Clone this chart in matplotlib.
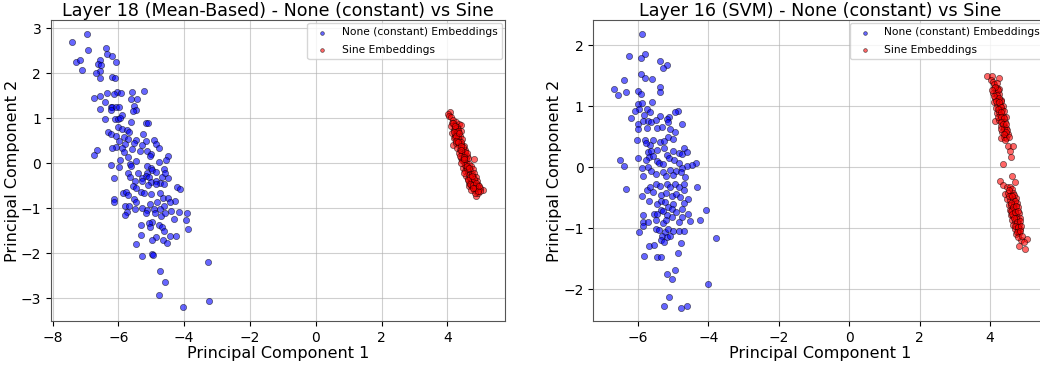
import matplotlib
matplotlib.use("Agg")
import matplotlib.pyplot as plt
import numpy as np

# ---------------- data ----------------
left_title = "Layer 18 (Mean-Based) - None (constant) vs Sine"
right_title = "Layer 16 (SVM) - None (constant) vs Sine"
legend_labels = ["None (constant) Embeddings", "Sine Embeddings"]

left_none = [
    (-6.95, 2.87), (-7.40, 2.69), (-6.93, 2.51), (-6.37, 2.56), (-6.35, 2.42), (-6.18, 2.39),
    (-7.30, 2.24), (-7.18, 2.30), (-6.55, 2.30), (-6.63, 2.21), (-6.52, 2.17), (-6.06, 2.24),
    (-7.11, 2.06), (-6.55, 2.05), (-6.67, 2.01), (-6.55, 1.88), (-6.18, 1.92), (-6.10, 1.88),
    (-5.58, 1.59), (-5.22, 1.61), (-6.04, 1.59), (-5.91, 1.56), (-6.36, 1.55), (-6.13, 1.53),
    (-6.55, 1.48), (-6.73, 1.44), (-5.61, 1.42), (-5.44, 1.42), (-6.40, 1.35), (-5.52, 1.27),
    (-6.23, 1.25), (-6.18, 1.24), (-6.08, 1.24), (-5.97, 1.24), (-6.57, 1.20), (-6.21, 1.18),
    (-5.46, 1.19), (-5.57, 1.15), (-5.90, 1.06), (-6.42, 0.97), (-6.10, 0.97), (-6.01, 0.98),
    (-5.94, 1.01), (-5.62, 0.92), (-5.17, 0.88), (-5.10, 0.90), (-6.00, 0.81), (-5.88, 0.76),
    (-5.75, 0.73), (-5.69, 0.70), (-5.25, 0.64), (-6.32, 0.69), (-6.23, 0.64), (-6.06, 0.60),
    (-5.82, 0.57), (-5.71, 0.53), (-5.98, 0.50), (-5.48, 0.52), (-5.15, 0.48), (-4.92, 0.51),
    (-4.86, 0.42), (-5.29, 0.40), (-5.54, 0.44), (-5.79, 0.43), (-6.06, 0.36), (-6.20, 0.33),
    (-5.90, 0.33), (-5.58, 0.31), (-5.34, 0.27), (-5.14, 0.26), (-4.78, 0.34), (-6.65, 0.30),
    (-6.75, 0.17), (-5.82, 0.25), (-5.00, 0.20), (-5.05, 0.16), (-4.48, 0.16), (-5.72, 0.13),
    (-5.48, 0.05), (-5.96, 0.07), (-4.55, 0.07), (-4.76, 0.02), (-5.66, -0.02), (-6.23, -0.05),
    (-5.97, -0.09), (-5.63, -0.07), (-5.13, -0.07), (-5.02, -0.10), (-4.60, -0.13), (-4.98, -0.16),
    (-4.85, -0.19), (-5.39, -0.22), (-5.71, -0.22), (-5.13, -0.22), (-5.16, -0.29), (-5.07, -0.30),
    (-6.14, -0.33), (-5.65, -0.32), (-4.68, -0.30), (-4.49, -0.33), (-4.58, -0.23), (-5.28, -0.34),
    (-5.51, -0.39), (-5.28, -0.40), (-5.00, -0.41), (-4.85, -0.40), (-4.73, -0.45), (-4.62, -0.47),
    (-4.87, -0.47), (-5.55, -0.51), (-5.46, -0.55), (-5.11, -0.48), (-4.21, -0.53), (-4.12, -0.57),
    (-5.87, -0.67), (-5.76, -0.64), (-5.72, -0.70), (-5.30, -0.64), (-5.23, -0.67), (-5.00, -0.69),
    (-4.74, -0.67), (-5.54, -0.79), (-5.45, -0.86), (-6.13, -0.79), (-6.14, -0.86), (-4.64, -0.77),
    (-4.49, -0.77), (-4.29, -0.85), (-4.42, -0.87), (-5.05, -0.90), (-4.83, -0.87), (-4.60, -0.95),
    (-5.79, -0.96), (-5.67, -0.95), (-5.27, -0.99), (-5.51, -1.03), (-5.13, -1.04), (-4.92, -1.01),
    (-4.74, -1.03), (-4.39, -1.06), (-4.17, -1.08), (-3.90, -1.10), (-5.74, -1.08), (-5.79, -1.16),
    (-5.17, -1.10), (-4.90, -1.11), (-4.71, -1.17), (-4.57, -1.12), (-3.94, -1.27), (-4.32, -1.24),
    (-3.88, -1.46), (-4.97, -1.31), (-5.07, -1.34), (-5.30, -1.38), (-5.05, -1.43), (-4.78, -1.38),
    (-4.67, -1.43), (-4.60, -1.51), (-5.31, -1.61), (-4.87, -1.64), (-4.98, -1.70), (-4.42, -1.63),
    (-4.26, -1.62), (-4.65, -1.70), (-4.52, -1.78), (-5.45, -1.81), (-5.28, -2.06), (-4.99, -2.02),
    (-4.95, -2.04), (-3.27, -2.21), (-4.75, -2.41), (-4.57, -2.64), (-4.76, -2.94), (-3.25, -3.06),
    (-4.04, -3.21),
]

left_sine = [
    (4.08, 1.14), (4.01, 1.10), (4.04, 1.04), (4.11, 1.03), (4.16, 0.96), (4.26, 0.92), (4.36, 0.87),
    (4.42, 0.84), (4.14, 0.90), (4.20, 0.85), (4.28, 0.80), (4.12, 0.82), (4.33, 0.76), (4.19, 0.74),
    (4.26, 0.70), (4.40, 0.72), (4.15, 0.66), (4.23, 0.62), (4.31, 0.64), (4.38, 0.60), (4.20, 0.55),
    (4.29, 0.52), (4.36, 0.50), (4.45, 0.53), (4.16, 0.40), (4.27, 0.44), (4.34, 0.40), (4.42, 0.42),
    (4.50, 0.38), (4.30, 0.34), (4.38, 0.30), (4.46, 0.28), (4.55, 0.30), (4.35, 0.22), (4.44, 0.20),
    (4.52, 0.18), (4.60, 0.16), (4.40, 0.12), (4.48, 0.10), (4.56, 0.08), (4.82, 0.10), (4.64, 0.12),
    (4.50, 0.02), (4.58, 0.00), (4.66, -0.02), (4.49, -0.12), (4.56, -0.08), (4.63, -0.10),
    (4.71, -0.06), (4.55, -0.18), (4.62, -0.20), (4.70, -0.16), (4.77, -0.14), (4.58, -0.28),
    (4.66, -0.26), (4.74, -0.24), (4.82, -0.22), (4.62, -0.36), (4.70, -0.34), (4.78, -0.32),
    (4.86, -0.30), (4.65, -0.45), (4.73, -0.42), (4.81, -0.44), (4.89, -0.40), (4.65, -0.51),
    (4.76, -0.52), (4.84, -0.50), (4.92, -0.48), (4.80, -0.60), (4.88, -0.58), (5.07, -0.60),
    (4.98, -0.56), (4.87, -0.73), (4.94, -0.66), (5.00, -0.62), (4.83, -0.66), (4.71, -0.60),
    (4.22, 0.78), (4.30, 0.68), (4.24, 0.58), (4.33, 0.56), (4.41, 0.46), (4.47, 0.36), (4.53, 0.24),
    (4.59, 0.22), (4.45, 0.06), (4.54, -0.04), (4.61, -0.14), (4.68, -0.30), (4.75, -0.40),
    (4.80, -0.36), (4.72, -0.48), (4.90, -0.52),
    (4.18, 0.88), (4.24, 0.83), (4.31, 0.72), (4.21, 0.68), (4.27, 0.60), (4.35, 0.66), (4.26, 0.50),
    (4.32, 0.46), (4.40, 0.38), (4.42, 0.28), (4.37, 0.16), (4.50, 0.14), (4.42, 0.00), (4.52, 0.08),
    (4.60, -0.06), (4.52, -0.22), (4.66, -0.12), (4.64, -0.38), (4.76, -0.28), (4.70, -0.46),
    (4.78, -0.48), (4.86, -0.44), (4.84, -0.56), (4.92, -0.62), (4.78, -0.56), (4.96, -0.50),
]

right_none = [
    (-5.89, 2.18), (-5.79, 1.85), (-6.24, 1.82), (-5.90, 1.78), (-5.37, 1.74), (-5.17, 1.67),
    (-5.29, 1.63), (-5.92, 1.52), (-5.79, 1.46), (-5.59, 1.45), (-6.39, 1.42), (-6.68, 1.28),
    (-5.36, 1.32), (-6.32, 1.23), (-5.37, 1.23), (-6.57, 1.18), (-5.99, 1.24), (-5.91, 1.19),
    (-6.00, 1.04), (-5.87, 1.05), (-5.60, 1.07), (-5.97, 0.95), (-6.09, 0.92), (-5.75, 0.95),
    (-5.65, 0.91), (-5.83, 0.86), (-6.18, 0.80), (-5.36, 0.83), (-5.11, 0.82), (-4.87, 0.92),
    (-4.94, 0.90), (-5.99, 0.70), (-5.84, 0.76), (-5.72, 0.76), (-5.61, 0.74), (-5.48, 0.78),
    (-5.18, 0.79), (-5.15, 0.74), (-4.75, 0.70), (-6.00, 0.63), (-5.73, 0.64), (-5.44, 0.64),
    (-5.31, 0.66), (-5.08, 0.62), (-4.94, 0.58), (-5.14, 0.50), (-5.01, 0.46), (-6.01, 0.44),
    (-5.78, 0.44), (-5.58, 0.44), (-5.37, 0.41), (-5.26, 0.42), (-5.65, 0.36), (-5.77, 0.39),
    (-4.69, 0.32), (-5.72, 0.25), (-5.62, 0.27), (-5.44, 0.28), (-5.25, 0.31), (-5.01, 0.26),
    (-4.82, 0.23), (-4.73, 0.21), (-4.61, 0.24), (-5.99, 0.15), (-5.68, 0.17), (-5.56, 0.18),
    (-5.16, 0.20), (-5.11, 0.15), (-6.50, 0.11), (-5.77, 0.11), (-5.44, 0.10), (-4.96, 0.11),
    (-6.38, 0.02), (-5.89, -0.01), (-5.71, 0.01), (-5.39, 0.06), (-5.29, 0.05), (-4.83, 0.06),
    (-4.35, 0.06), (-4.45, 0.03), (-4.60, 0.02), (-4.75, -0.01), (-5.63, -0.07), (-5.28, -0.08),
    (-5.08, -0.05), (-4.92, -0.06), (-4.78, -0.08), (-5.48, -0.12), (-5.86, -0.14), (-5.20, -0.14),
    (-5.01, -0.13), (-4.67, -0.16), (-6.32, -0.36), (-5.87, -0.47), (-5.75, -0.37), (-5.65, -0.32),
    (-5.56, -0.40), (-5.48, -0.27), (-5.37, -0.31), (-5.33, -0.46), (-5.21, -0.42), (-5.16, -0.27),
    (-5.09, -0.32), (-5.03, -0.48), (-4.94, -0.27), (-4.91, -0.44), (-4.83, -0.32), (-4.80, -0.49),
    (-4.70, -0.27), (-4.70, -0.38), (-4.56, -0.53), (-4.31, -0.32), (-5.68, -0.55), (-5.46, -0.61),
    (-5.35, -0.55), (-5.22, -0.57), (-5.14, -0.65), (-5.01, -0.60), (-4.69, -0.58), (-5.33, -0.70),
    (-5.28, -0.72), (-5.03, -0.68), (-4.92, -0.74), (-4.75, -0.69), (-4.57, -0.76), (-4.07, -0.71),
    (-5.86, -0.78), (-5.54, -0.77), (-5.44, -0.77), (-5.17, -0.78), (-5.03, -0.81), (-4.75, -0.81),
    (-4.53, -0.88), (-4.24, -0.87), (-5.86, -0.90), (-5.72, -0.90), (-5.48, -0.87), (-5.27, -0.92),
    (-5.20, -0.87), (-4.83, -0.90), (-5.86, -0.97), (-5.48, -1.01), (-5.41, -1.03), (-5.96, -1.07),
    (-5.22, -1.06), (-5.13, -1.01), (-4.99, -1.04), (-4.83, -1.04), (-4.70, -1.04), (-5.32, -1.13),
    (-5.16, -1.15), (-5.33, -1.20), (-5.25, -1.22), (-5.08, -1.13), (-4.78, -1.24), (-3.77, -1.16),
    (-5.68, -1.30), (-5.55, -1.28), (-4.86, -1.41), (-5.82, -1.46), (-5.46, -1.48), (-5.33, -1.48),
    (-4.94, -1.68), (-5.18, -1.75), (-5.04, -1.84), (-4.00, -1.92), (-5.11, -2.12), (-5.26, -2.27),
    (-4.77, -2.31), (-4.60, -2.27),
]

right_sine = [
    (3.91, 1.50), (4.06, 1.50), (4.25, 1.46), (4.03, 1.43), (4.08, 1.39), (4.12, 1.36), (4.20, 1.38),
    (4.10, 1.30), (4.18, 1.30), (4.26, 1.28), (4.08, 1.22), (4.16, 1.22), (4.24, 1.20), (4.14, 1.14),
    (4.22, 1.12), (4.30, 1.10), (4.12, 1.06), (4.20, 1.04), (4.28, 1.02), (4.36, 1.00), (4.17, 0.97),
    (4.25, 0.95), (4.33, 0.93), (4.20, 0.88), (4.28, 0.86), (4.36, 0.84), (4.44, 0.82), (4.15, 0.76),
    (4.26, 0.78), (4.34, 0.76), (4.42, 0.74), (4.30, 0.68), (4.38, 0.66), (4.46, 0.64), (4.34, 0.58),
    (4.42, 0.56), (4.50, 0.54), (4.38, 0.50), (4.46, 0.47), (4.30, 0.48), (4.50, 0.34), (4.55, 0.26),
    (4.64, 0.35), (4.58, 0.17), (4.36, 0.05), (4.22, 1.26), (4.32, 1.08), (4.24, 0.90), (4.40, 0.62),
    (4.48, 0.60),
    (4.14, 1.32), (4.06, 1.26), (4.20, 1.18), (4.10, 1.16), (4.26, 1.14), (4.16, 1.08), (4.24, 1.06),
    (4.30, 0.98), (4.22, 0.96), (4.38, 0.92), (4.30, 0.90), (4.22, 0.82), (4.32, 0.82), (4.40, 0.80),
    (4.30, 0.74), (4.36, 0.70), (4.44, 0.70), (4.32, 0.62), (4.46, 0.58), (4.40, 0.54), (4.52, 0.50),
    (4.42, 0.45),
    (4.28, -0.22), (4.61, -0.14), (4.36, -0.29), (4.69, -0.25), (4.47, -0.33), (4.41, -0.44),
    (4.55, -0.32), (4.62, -0.36), (4.50, -0.42), (4.58, -0.45), (4.66, -0.42), (4.48, -0.52),
    (4.56, -0.54), (4.64, -0.52), (4.72, -0.50), (4.52, -0.62), (4.60, -0.62), (4.68, -0.60),
    (4.76, -0.58), (4.55, -0.70), (4.63, -0.71), (4.71, -0.68), (4.79, -0.66), (4.58, -0.78),
    (4.66, -0.80), (4.74, -0.77), (4.82, -0.75), (4.62, -0.86), (4.70, -0.88), (4.78, -0.85),
    (4.86, -0.83), (4.66, -0.94), (4.74, -0.96), (4.82, -0.93), (4.70, -1.02), (4.78, -1.04),
    (4.86, -1.01), (4.74, -1.10), (4.82, -1.08), (4.88, -1.19), (5.04, -1.18), (4.83, -1.30),
    (5.00, -1.34), (4.95, -1.22), (4.68, -0.46), (4.60, -0.72), (4.72, -0.84), (4.80, -0.98),
    (4.54, -0.38), (4.52, -0.48), (4.62, -0.48), (4.70, -0.56), (4.58, -0.58), (4.66, -0.66),
    (4.74, -0.64), (4.62, -0.76), (4.70, -0.74), (4.78, -0.72), (4.68, -0.84), (4.76, -0.90),
    (4.84, -0.88), (4.70, -0.96), (4.78, -0.98), (4.88, -0.96), (4.76, -1.06), (4.84, -1.04),
    (4.80, -1.14), (4.90, -1.12),
]

left_xticks = [-8, -6, -4, -2, 0, 2, 4]
left_yticks = [-3, -2, -1, 0, 1, 2, 3]
right_xticks = [-6, -4, -2, 0, 2, 4]
right_yticks = [-2, -1, 0, 1, 2]

# ---------------- figure ----------------
fig = plt.figure(figsize=(10.4, 3.66), dpi=100)
ax1 = fig.add_axes([0.049, 0.123, 0.4365, 0.8224])
ax2 = fig.add_axes([0.5705, 0.123, 0.4365, 0.8224])

panels = [
    (ax1, left_title, left_none, left_sine, (-8.05, 5.75), (-3.51, 3.18), left_xticks, left_yticks),
    (ax2, right_title, right_none, right_sine, (-7.26, 5.62), (-2.52, 2.41), right_xticks, right_yticks),
]

for ax, title, none_pts, sine_pts, xl, yl, xt, yt in panels:
    n = np.array(none_pts)
    s = np.array(sine_pts)
    ax.scatter(n[:, 0], n[:, 1], s=20, c="blue", alpha=0.6, edgecolors="k",
               linewidths=0.5, label=legend_labels[0], zorder=3)
    ax.scatter(s[:, 0], s[:, 1], s=20, c="red", alpha=0.6, edgecolors="k",
               linewidths=0.5, label=legend_labels[1], zorder=3)
    ax.set_xlim(*xl)
    ax.set_ylim(*yl)
    ax.set_xticks(xt)
    ax.set_yticks(yt)
    ax.grid(True, alpha=0.6)
    ax.set_axisbelow(True)
    ax.set_title(title, fontsize=12.6, pad=3)
    ax.set_xlabel("Principal Component 1", fontsize=11.5, labelpad=1)
    ax.set_ylabel("Principal Component 2", fontsize=11.5, labelpad=0.5)
    ax.tick_params(labelsize=10)
    for sp in ax.spines.values():
        sp.set_color("#555555")
    ax.legend(loc="upper right", fontsize=7.7, markerscale=0.6, borderaxespad=0.3,
              labelspacing=0.7)

fig.savefig("out.png", dpi=100)
